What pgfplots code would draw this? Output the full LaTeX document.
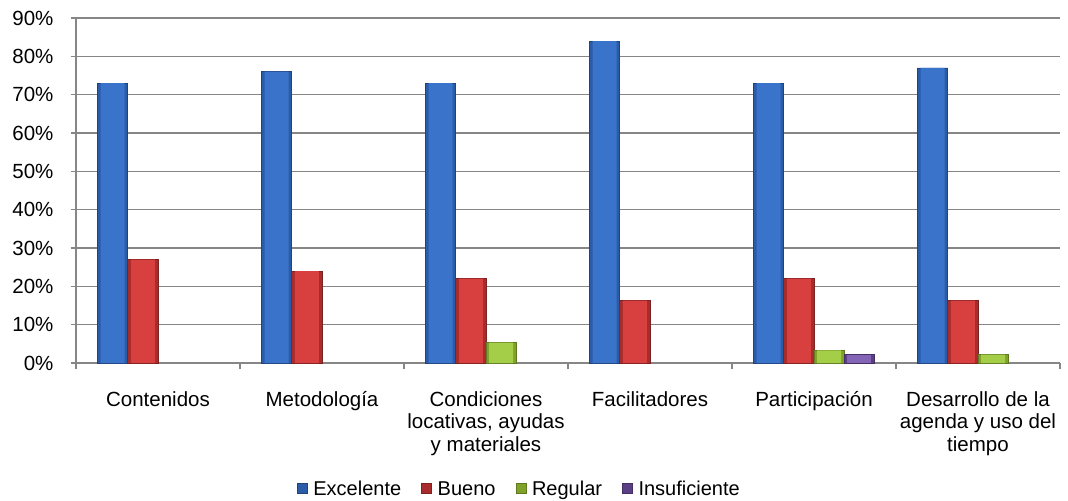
\documentclass[border=0pt]{standalone}
\usepackage{pgfplots}
\usepackage{pgfplotstable}
\pgfplotsset{compat=1.18}
\usepackage{fontspec}
\setmainfont{Liberation Sans}

\definecolor{gridgray}{HTML}{868686}
\definecolor{blueD}{HTML}{2A5CA8}
\definecolor{blueM}{HTML}{3A74CA}
\definecolor{redD}{HTML}{A82C2C}
\definecolor{redM}{HTML}{D84040}
\definecolor{greenD}{HTML}{80A22A}
\definecolor{greenM}{HTML}{A4CE48}
\definecolor{purD}{HTML}{5A3E86}
\definecolor{purM}{HTML}{8464B4}

\pgfplotstableread{
x  exc   bue   reg   ins
0  73    27    nan   nan
1  76    24    nan   nan
2  73    22    5.3   nan
3  84    16.3  nan   nan
4  73    22    3.3   2.2
5  77    16.3  2.2   nan
}\datatable

\begin{document}
\begin{tikzpicture}
\begin{axis}[
    at={(0,0)}, anchor=south west,
    scale only axis,
    width=984bp, height=345bp,
    ybar, bar width=30.3bp,
    xmin=-0.5, xmax=5.5,
    ymin=0, ymax=90,
    axis x line=bottom, axis y line=left,
    axis line style={-, draw=gridgray, line width=1.1bp},
    tick align=outside,
    major tick length=5bp, minor tick length=6bp,
    tick style={draw=gridgray, line width=1.1bp},
    major x tick style={draw=none},
    minor x tick style={draw=gridgray, line width=1.1bp},
    ytick={0,10,...,90},
    yticklabels={0\%,10\%,20\%,30\%,40\%,50\%,60\%,70\%,80\%,90\%},
    xtick={0,...,5},
    minor xtick={-0.5,0.5,...,5.5},
    xticklabels={Contenidos, Metodología, {Condiciones\\locativas, ayudas\\y materiales}, Facilitadores, Participación, {Desarrollo de la\\agenda y uso del\\tiempo}},
    ymajorgrids=true,
    grid style={draw=gridgray, line width=1.1bp},
    tick label style={font=\fontsize{20.5bp}{22.5bp}\selectfont},
    xticklabel style={align=center, anchor=north, yshift=-20bp},
    yticklabel style={xshift=-14bp},
    legend columns=4,
    legend style={at={(0.45,-0.365)}, anchor=center, draw=none,
        font=\fontsize{20bp}{22.5bp}\selectfont,
        /tikz/every odd column/.append style={column sep=5bp},
        /tikz/every even column/.append style={column sep=19bp},
        nodes={inner sep=1bp}},
    legend image code/.code={\path[#1] (0bp,-4bp) rectangle (10bp,6bp);},
]

% darker outer bars (edges)
\addplot[fill=blueD, draw=blueD!75!black, line width=0.5bp, bar shift=-45.45bp]
    table[x=x, y=exc] {\datatable};
\addplot[fill=redD, draw=redD!75!black, line width=0.5bp, bar shift=-15.15bp]
    table[x=x, y=bue] {\datatable};
\addplot[fill=greenD, draw=greenD!75!black, line width=0.5bp, bar shift=15.15bp]
    table[x=x, y=reg] {\datatable};
\addplot[fill=purD, draw=purD!75!black, line width=0.5bp, bar shift=45.45bp]
    table[x=x, y=ins] {\datatable};
\legend{Excelente, Bueno, Regular, Insuficiente}

% lighter inner body
\addplot[forget plot, fill=blueM, draw=none, bar width=24bp, bar shift=-45.45bp]
    table[x=x, y=exc] {\datatable};
\addplot[forget plot, fill=redM, draw=none, bar width=24bp, bar shift=-15.15bp]
    table[x=x, y=bue] {\datatable};
\addplot[forget plot, fill=greenM, draw=none, bar width=24bp, bar shift=15.15bp]
    table[x=x, y=reg] {\datatable};
\addplot[forget plot, fill=purM, draw=none, bar width=24bp, bar shift=45.45bp]
    table[x=x, y=ins] {\datatable};

\end{axis}
\pgfresetboundingbox
\path[use as bounding box] (-76bp,-138bp) rectangle (992bp,363bp);
\end{tikzpicture}
\end{document}
